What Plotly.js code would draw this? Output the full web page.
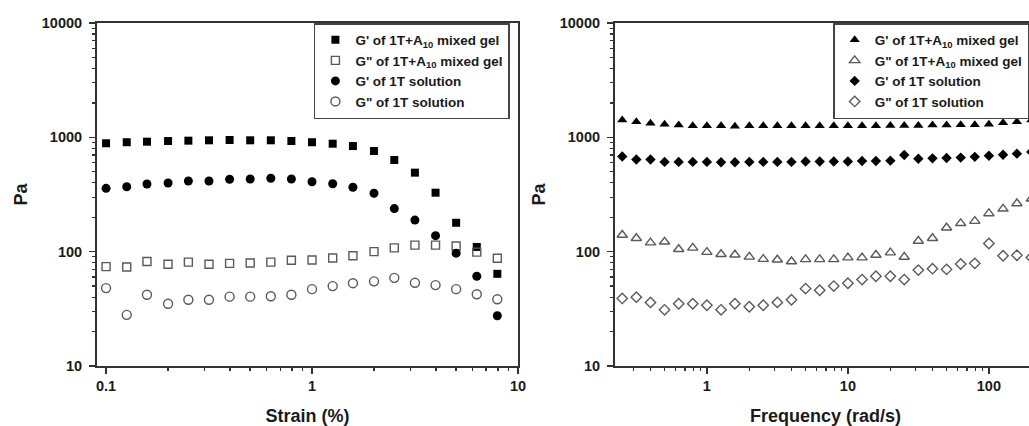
<!DOCTYPE html>
<html>
<head>
<meta charset="utf-8">
<script src="https://cdn.plot.ly/plotly-3.0.1.min.js"></script>
<style>
html, body { margin:0; padding:0; overflow:hidden; background:#fff; }
#chart { width:1040px; height:426px; }
</style>
</head>
<body>
<div id="chart"></div>
<script>
// ---- Left panel: strain sweep ----
const strain = [0.1, 0.126, 0.158, 0.2, 0.251, 0.316, 0.398, 0.501, 0.631, 0.794, 1, 1.26, 1.58, 2, 2.51, 3.16, 3.98, 5.01, 6.31, 7.94];
const strainGp_mixed = [887, 906, 916, 929, 935, 942, 948, 942, 942, 929, 906, 880, 839, 759, 634, 491, 328, 179, 110, 64];
const strainGpp_mixed = [74, 73.5, 82, 77.5, 81, 77.5, 79, 79.5, 81, 84, 84.5, 88, 92, 100, 108, 114, 114, 112, 99, 87.5];
const strainGp_sol = [358, 370, 391, 399, 415, 415, 430, 432, 439, 432, 409, 393, 366, 324, 238, 189, 138, 97, 61, 27.5];
const strainGpp_sol = [48, 28, 42, 35, 38, 38, 40.4, 40.4, 40.7, 42, 47, 50, 53, 55, 59, 53.4, 51, 47, 42.4, 38.3];

// ---- Right panel: frequency sweep ----
const freq = [0.251, 0.316, 0.398, 0.501, 0.631, 0.794, 1, 1.26, 1.58, 2, 2.51, 3.16, 3.98, 5.01, 6.31, 7.94, 10, 12.6, 15.8, 20, 25.1, 31.6, 39.8, 50.1, 63.1, 79.4, 100, 126, 158, 200];
const freqGp_mixed = [1420, 1370, 1330, 1300, 1280, 1260, 1260, 1260, 1250, 1260, 1260, 1260, 1260, 1260, 1260, 1260, 1260, 1260, 1260, 1270, 1270, 1270, 1280, 1280, 1290, 1290, 1300, 1340, 1370, 1420];
const freqGpp_mixed = [140, 131, 120, 122, 105, 108, 99, 95, 94, 90, 86, 85, 82, 85.7, 85.7, 85.7, 88.7, 88.7, 93.6, 98, 89.8, 124, 131, 162, 177, 185, 216, 237, 264, 290];
const freqGp_sol = [680, 640, 640, 610, 610, 610, 610, 605, 605, 610, 610, 610, 610, 615, 615, 615, 615, 620, 620, 625, 700, 650, 655, 660, 665, 675, 690, 705, 720, 745];
const freqGpp_sol = [39, 40, 36, 31, 35, 35, 34, 31, 35, 33, 34, 36, 38, 47.5, 46, 50, 53, 57, 61, 61, 57, 69, 71, 70, 78, 79, 118, 92, 93, 89];

const names = {
  gpMixed: "G' of 1T+A<sub>10</sub> mixed gel",
  gppMixed: 'G" of 1T+A<sub>10</sub> mixed gel',
  gpSol: "G' of 1T solution",
  gppSol: 'G" of 1T solution'
};

const BLACK = '#000000';
const GREY = '#5a5a5a';

function tr(x, y, name, symbol, size, open, xa, ya, lg) {
  return {
    type: 'scatter', mode: 'markers', x: x, y: y, name: name,
    xaxis: xa, yaxis: ya, legend: lg,
    marker: open
      ? { symbol: symbol, size: size, color: GREY, line: { color: GREY, width: 1.4 } }
      : { symbol: symbol, size: size, color: BLACK, line: { width: 0 } },
    hoverinfo: 'x+y+name'
  };
}

const data = [
  tr(strain, strainGp_mixed, names.gpMixed, 'square', 8, false, 'x', 'y', 'legend'),
  tr(strain, strainGpp_mixed, names.gppMixed, 'square-open', 8, true, 'x', 'y', 'legend'),
  tr(strain, strainGp_sol, names.gpSol, 'circle', 9, false, 'x', 'y', 'legend'),
  tr(strain, strainGpp_sol, names.gppSol, 'circle-open', 9, true, 'x', 'y', 'legend'),
  tr(freq, freqGp_mixed, names.gpMixed, 'triangle-up', 9, false, 'x2', 'y2', 'legend2'),
  tr(freq, freqGpp_mixed, names.gppMixed, 'triangle-up-open', 9, true, 'x2', 'y2', 'legend2'),
  tr(freq, freqGp_sol, names.gpSol, 'diamond', 8, false, 'x2', 'y2', 'legend2'),
  tr(freq, freqGpp_sol, names.gppSol, 'diamond-open', 8, true, 'x2', 'y2', 'legend2')
];

const AX = '#333333';
function axis(extra) {
  return Object.assign({
    type: 'log', tickmode: 'linear', dtick: 1, exponentformat: 'none',
    ticks: 'outside', ticklen: 6, tickwidth: 1.5, tickcolor: AX,
    showline: true, linewidth: 2, linecolor: AX, mirror: true,
    showgrid: false, zeroline: false,
    minor: { ticks: 'outside', ticklen: 3, tickwidth: 1.2, tickcolor: AX, dtick: 'D1', showgrid: false }
  }, extra);
}
function yAxis(extra) {
  return axis(Object.assign({
    tickformat: 'd', ticklabelstandoff: 4,
    title: { text: 'Pa', font: { size: 18 }, standoff: 9 }
  }, extra));
}

const layout = {
  width: 1040, height: 426,
  margin: { l: 97, r: 4, t: 23, b: 60 },
  paper_bgcolor: '#ffffff', plot_bgcolor: '#ffffff',
  font: { family: 'Liberation Sans, Arial, sans-serif', size: 14.5, color: '#1a1a1a', weight: 'bold' },
  showlegend: true,
  xaxis: axis({ domain: [0, 0.4483], range: [-1.044, 1], anchor: 'y',
    title: { text: 'Strain (%)', font: { size: 18 } } }),
  yaxis: yAxis({ domain: [0, 1], range: [1, 4], anchor: 'x' }),
  xaxis2: axis({ domain: [0.5516, 1], range: [-0.652, 2.334], anchor: 'y2',
    title: { text: 'Frequency (rad/s)', font: { size: 18 } } }),
  yaxis2: yAxis({ domain: [0, 1], range: [1, 4], anchor: 'x2' }),
  legend: { x: 0.231, xanchor: 'left', y: 1, yanchor: 'top',
    bgcolor: '#ffffff', bordercolor: '#444444', borderwidth: 1.5,
    font: { size: 13.5 }, tracegroupgap: 0 },
  legend2: { x: 0.784, xanchor: 'left', y: 1, yanchor: 'top',
    bgcolor: '#ffffff', bordercolor: '#444444', borderwidth: 1.5,
    font: { size: 13.5 }, tracegroupgap: 0 }
};

Plotly.newPlot('chart', data, layout, { displayModeBar: false, staticPlot: true });
</script>
</body>
</html>
